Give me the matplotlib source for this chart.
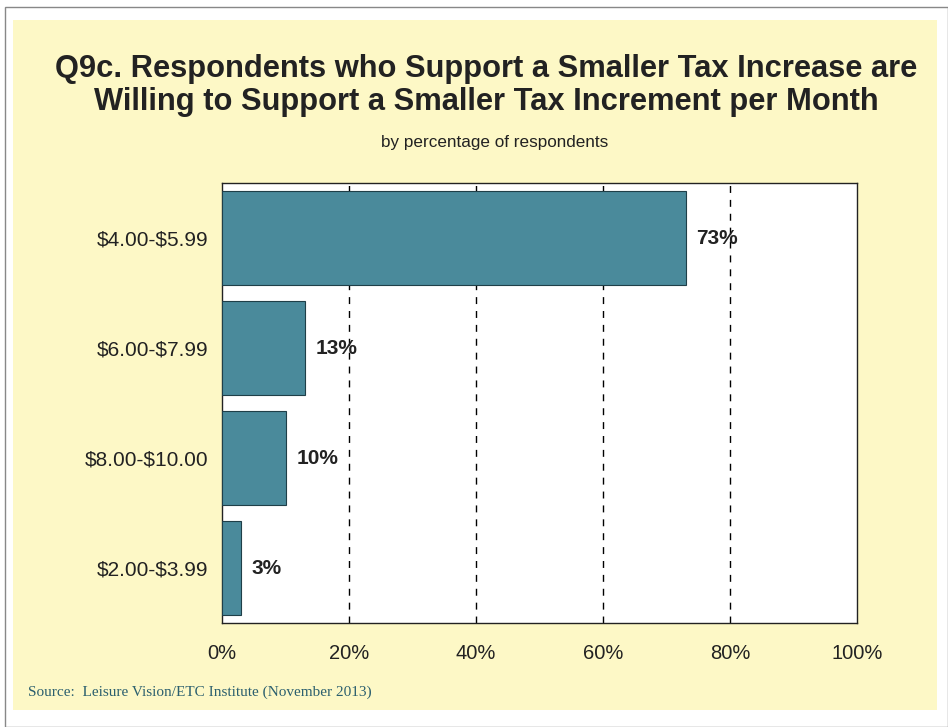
import matplotlib
matplotlib.use("Agg")
import matplotlib.pyplot as plt
from matplotlib.patches import Rectangle

# survey answers, top to bottom
CATS = ["$4.00-$5.99", "$6.00-$7.99", "$8.00-$10.00", "$2.00-$3.99"]
PCT = [73, 13, 10, 3]
XTICKS = [0, 20, 40, 60, 80, 100]

TITLE_1 = "Q9c. Respondents who Support a Smaller Tax Increase are"
TITLE_2 = "Willing to Support a Smaller Tax Increment per Month"
SUB = "by percentage of respondents"
SRC = "Source:  Leisure Vision/ETC Institute (November 2013)"

BAR = "#4a8a9b"
PANEL = "#fdf8c6"

plt.rcParams["font.family"] = ["Liberation Sans", "DejaVu Sans"]
plt.rcParams["text.parse_math"] = False  # keep the $ signs literal

fig = plt.figure(figsize=(9.48, 7.27), dpi=100)
fig.patch.set_facecolor("white")
W, H = 948, 727


def fx(px):
    return px / W


def fy(px):
    return 1 - px / H


# page frame and the yellow panel behind the chart
fig.patches.append(Rectangle((fx(5), 0), 1 - fx(5), 1 - 7 / H, transform=fig.transFigure,
                             fill=False, ec="#888888", lw=1.0, zorder=-10))
fig.patches.append(Rectangle((fx(13), 17 / H), 924 / W, 690 / H, transform=fig.transFigure,
                             fc=PANEL, ec="none", zorder=-10))

for txt, base in [(TITLE_1, 77), (TITLE_2, 110)]:
    fig.text(fx(486), fy(base), txt, ha="center", va="baseline", fontsize=22.2,
             fontweight="bold", color="#222222")
fig.text(fx(495), fy(147), SUB, ha="center", va="baseline", fontsize=12.3, color="#222222")
fig.text(fx(28), fy(692), SRC, ha="left", va="center", fontsize=11,
         family=["Liberation Serif", "DejaVu Serif"], color="#2b5f6e")

ax = fig.add_axes([fx(222), fy(623), (857 - 222) / W, (623 - 183) / H])
ax.set_facecolor("white")
ypos = list(range(len(CATS)))
ax.barh(ypos, PCT, height=0.86, color=BAR, edgecolor="#1f3f48", lw=0.8, zorder=3)
for y, v in zip(ypos, PCT):
    ax.text(v + 1.7, y, f"{v}%", ha="left", va="center", fontsize=15,
            fontweight="bold", color="#222222", zorder=4)

ax.set_xlim(0, 100)
ax.set_ylim(len(CATS) - 0.5, -0.5)
ax.set_xticks(XTICKS)
ax.set_xticklabels([f"{t}%" for t in XTICKS], fontsize=14.5, color="#222222")
ax.set_yticks(ypos)
ax.set_yticklabels(CATS, fontsize=15, color="#222222")
ax.tick_params(axis="x", length=0, pad=15)
ax.tick_params(axis="y", length=0, pad=10)
for x in XTICKS[1:-1]:
    ax.axvline(x, color="black", ls=(0, (5, 5)), lw=1.0, zorder=1)
for s in ax.spines.values():
    s.set_color("#222222")
    s.set_linewidth(1.0)

fig.savefig("out.png", dpi=100)
